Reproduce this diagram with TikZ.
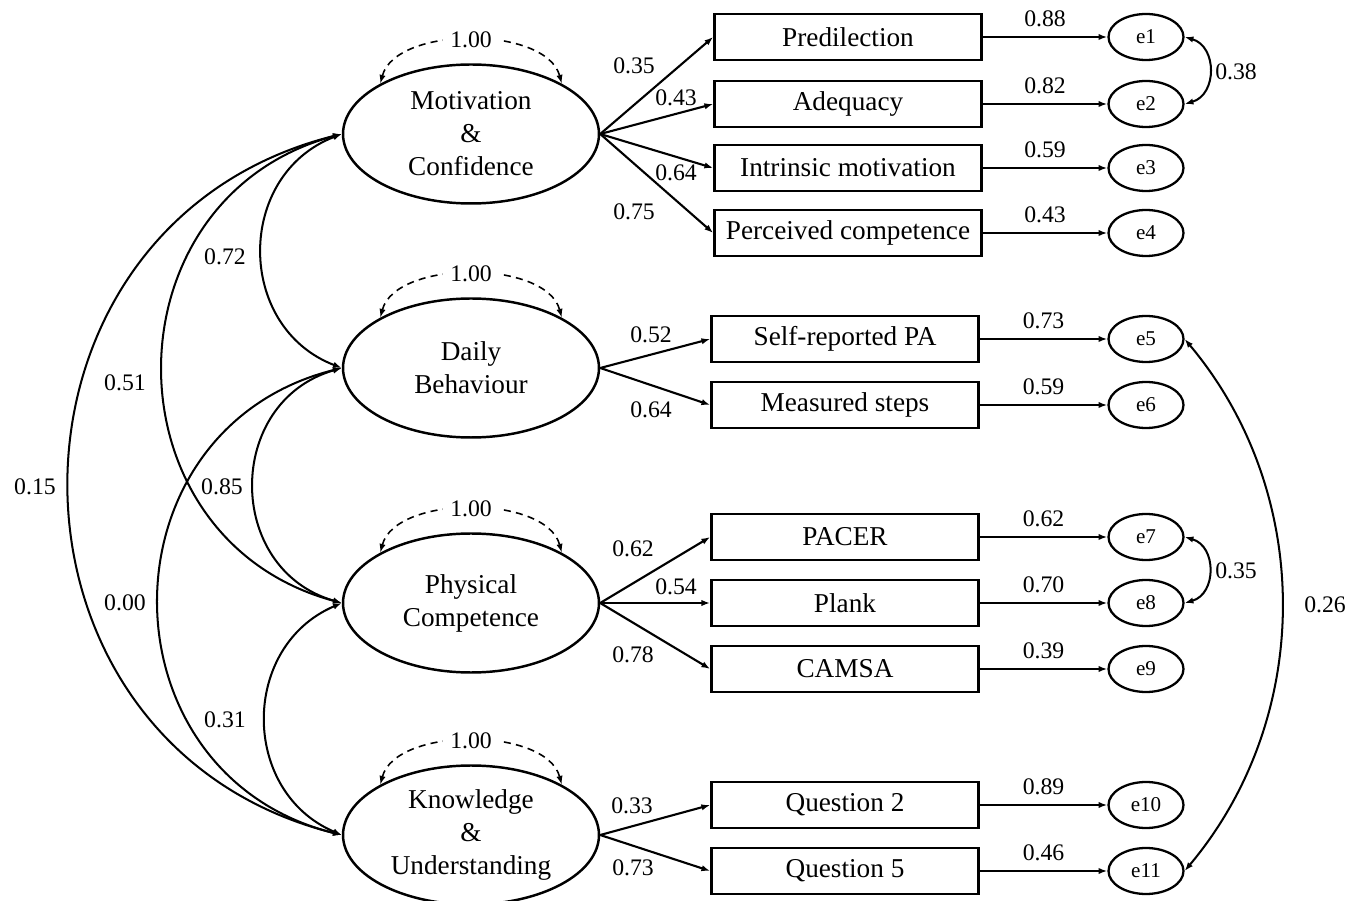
\documentclass[tikz,border=0pt]{standalone}
\usepackage{fontspec}
\setmainfont{Liberation Serif}
\usetikzlibrary{arrows.meta,shapes,positioning}

\begin{document}
\begin{tikzpicture}[x=0.02cm, y=0.02cm,
    latent/.style={draw, ellipse, line width=1.4pt, minimum width=5.12cm, minimum height=2.78cm,
      inner sep=0pt, align=center, font=\fontsize{15.5}{18.8}\selectfont},
    obs/.style={draw, rectangle, line width=1.5pt, minimum width=5.34cm, minimum height=0.92cm,
      inner sep=0pt, font=\fontsize{15.5}{18}\selectfont},
    err/.style={draw, ellipse, line width=1.3pt, minimum width=1.5cm, minimum height=0.92cm,
      inner sep=0pt, font=\fontsize{12}{14}\selectfont},
    num/.style={font=\fontsize{13.5}{16}\selectfont, inner sep=1pt},
    load/.style={-{Latex[length=5pt,width=3.6pt]}, line width=1.2pt},
    cov/.style={{Latex[length=5pt,width=3.6pt]}-{Latex[length=5pt,width=3.6pt]}, line width=1.15pt},
    var/.style={cov, dash pattern=on 4pt off 3pt, line width=0.9pt}
  ]
  \useasboundingbox (0,0) rectangle (1353,900);

  % latent factors
  \node[latent] (mc) at (471,766) {Motivation\\\&\\Confidence};
  \node[latent] (db) at (471,532) {Daily\\Behaviour};
  \node[latent] (pc) at (471,297) {Physical\\Competence};
  \node[latent] (ku) at (471,65) {Knowledge\\\&\\Understanding};

  % indicators and their errors
  \foreach \i/\x/\y/\t/\r in {1/848/863/Predilection/0.88, 2/848/796/Adequacy/0.82,
      3/848/732/Intrinsic motivation/0.59, 4/848/667/Perceived competence/0.43,
      5/845/561/Self-reported PA/0.73, 6/845/495/Measured steps/0.59,
      7/845/363/PACER/0.62, 8/845/297/Plank/0.70, 9/845/231/CAMSA/0.39,
      10/845/95/Question 2/0.89, 11/845/29/Question 5/0.46} {
    \node[obs] (o\i) at (\x,\y) {\t};
    \node[err] (e\i) at (1146,\y) {e\i};
    \draw[load] (o\i.east) -- (e\i.west) node[num, midway, above=4pt] {\r};
  }

  % loadings
  \foreach \f/\o in {mc/1, mc/2, mc/3, mc/4, db/5, db/6, pc/7, pc/8, pc/9, ku/10, ku/11}
    \draw[load] (\f.east) -- (o\o.west);
  \foreach \v/\x/\y [count=\k] in {0.35/634/834, 0.43/676/802, 0.64/676/727, 0.75/634/688,
      0.52/651/565, 0.64/651/490, 0.62/633/351, 0.54/676/313, 0.78/633/245,
      0.33/632/94, 0.73/633/32}
    \node[num] (w\k) at (\x,\y) {\v};

  % variances
  \foreach \f in {mc, db, pc, ku}
    \draw[var] (\f.151) to[out=75, in=105, looseness=0.85]
      node[num, fill=white, inner sep=4pt] {1.00} (\f.29);

  % factor covariances
  \draw[cov] (mc.west) to[out=201, in=159, looseness=1.25] (db.west);
  \draw[cov] (mc.west) to[out=195, in=165, looseness=1.35] (pc.west);
  \draw[cov] (mc.west) to[out=194, in=166, looseness=1.37] (ku.west);
  \draw[cov] (db.west) to[out=196, in=164, looseness=1.33] (pc.west);
  \draw[cov] (db.west) to[out=194, in=166, looseness=1.38] (ku.west);
  \draw[cov] (pc.west) to[out=203, in=157, looseness=1.22] (ku.west);
  \foreach \v/\x/\y [count=\k] in {0.72/225/643, 0.51/125/517, 0.15/35/413,
      0.85/222/413, 0.00/125/297, 0.31/225/180}
    \node[num] (c\k) at (\x,\y) {\v};

  % error covariances
  \draw[cov] (e1.east) to[out=-16, in=16, looseness=1.3] (e2.east);
  \draw[cov] (e7.east) to[out=-16, in=16, looseness=1.3] (e8.east);
  \draw[cov] (e5.east) to[out=-50, in=50, looseness=0.97] (e11.east);
  \node[num] (r1) at (1236,828) {0.38};
  \node[num] (r2) at (1236,329) {0.35};
  \node[num] (r3) at (1325,295) {0.26};
\end{tikzpicture}
\end{document}
